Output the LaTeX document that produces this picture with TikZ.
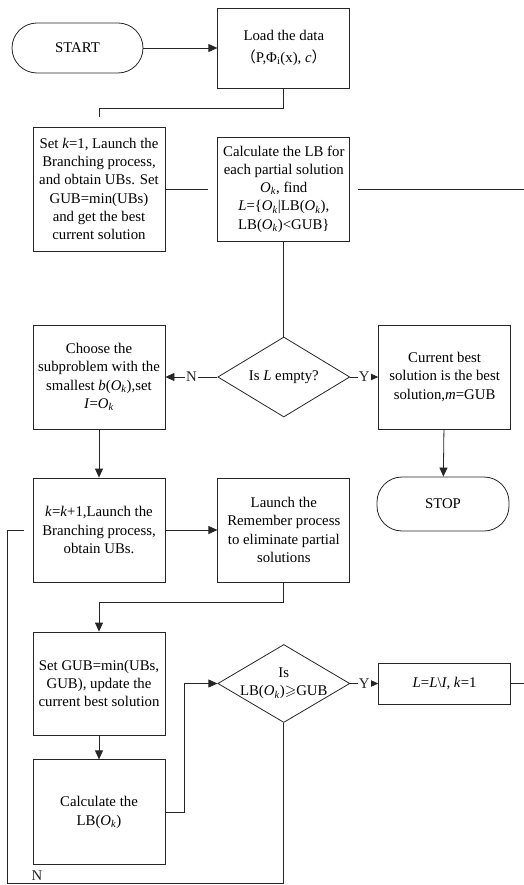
\documentclass[tikz,border=0pt]{standalone}
\usepackage{amssymb}
\usepackage{fontspec}
\setmainfont{Liberation Serif}
\newfontfamily\cjk{Noto Sans CJK SC}
\usetikzlibrary{arrows.meta,positioning,shapes.geometric}
\colorlet{myline}{black!85}
\def\colsep{52pt}
\def\Ok{\textit{O}\textsubscript{\textit{k}}}
\tikzset{
  >={Triangle[length=9pt,width=8pt]},
  txt/.style={font=\fontsize{14.8}{18.3}\selectfont},
  box/.style={txt,draw=myline,line width=0.8pt,align=center,minimum width=132pt,inner sep=2pt},
  term/.style={box,rounded corners=25pt,minimum width=131pt,minimum height=50pt},
  decision/.style={txt,diamond,draw=myline,line width=0.8pt,aspect=1.65,minimum width=132pt,minimum height=80pt,inner sep=0pt},
  connect/.style={myline,line width=0.8pt},
  connect arrow/.style={connect,->},
  yn/.style={txt,fill=white,inner sep=1pt}
}

\begin{document}
\begin{tikzpicture}[x=1pt,y=-1pt]
	\useasboundingbox (0,0) rectangle (524,885);

	\node[term] (start) at (77.5,48) {START};
	\node[box,minimum height=80pt,right=74pt of start] (load) {Load the data\\[4pt]{\cjk （}P,Φ\textsubscript{i}(x), \textit{c}{\cjk ）}};

	\node[box,minimum height=124pt] (setk) at (99,189) {Set \textit{k}=1, Launch the\\Branching process,\\and obtain UBs. Set\\GUB=min(UBs)\\and get the best\\current solution};
	\node[box,minimum height=104pt,right=\colsep of setk] (calc) {Calculate the LB for\\each partial solution\\\Ok, find\\\textit{L}=\{\Ok|LB(\Ok),\\LB(\Ok)<GUB\}};

	\node[box,minimum height=104pt] (choose) at (99,377) {Choose the\\subproblem with the\\smallest \textit{b}(\Ok),set\\\textit{I}=\Ok};
	\node[decision,right=\colsep of choose] (isL) {Is \textit{L} empty?};
	\node[box,minimum height=104pt,right=28pt of isL] (curbest) {Current best\\solution is the best\\solution,\textit{m}=GUB};

	\node[box,minimum height=104pt] (kbox) at (99,530) {\textit{k}=\textit{k}+1,Launch the\\Branching process,\\obtain UBs.};
	\node[box,minimum height=104pt,right=\colsep of kbox] (rem) {Launch the\\Remember process\\to eliminate partial\\solutions};
	\node[term,minimum width=132pt,minimum height=54pt] (stop) at (443,504) {STOP};

	\node[box,minimum height=103pt] (setgub) at (99,683.5) {Set GUB=min(UBs,\\GUB), update the\\current best solution};
	\node[box,minimum height=105pt,below=24pt of setgub] (calclb) {Calculate the\\LB(\Ok)};
	\node[decision,minimum height=78pt,right=\colsep of setgub] (isLB) {};
	\node[txt,align=center] (isLBtext) at (isLB.center) {Is\\LB(\Ok)$\geqslant$GUB};
	\node[box,minimum height=41pt,right=28pt of isLB] (lset) {\textit{L}=\textit{L}\textbackslash\textit{I}, \textit{k}=1};

	% loose ends leaving the picture
	\coordinate (edgeA) at (526,189);
	\coordinate (edgeB) at (526,683.5);
	\coordinate (loopN) at (7,883);

	\draw[connect arrow] (start) -- (load);
	\draw[connect,shorten >=10pt] (load.south) -- ++(0,20) -| (setk.north);
	\draw[connect,shorten >=9pt] (setk) -- (calc);
	\draw[connect,shorten >=8pt] (edgeA) -- (calc.east);
	\draw[connect] (calc) -- (isL);
	\draw[connect arrow] (isL) -- node[yn] {N} (choose);
	\draw[connect arrow] (isL) -- node[yn] {Y} (curbest);
	\draw[connect arrow] (choose) -- (kbox);
	\draw[connect arrow] (curbest) -- (stop);
	\draw[connect arrow] (kbox) -- (rem);
	\draw[connect arrow] (rem.south) -- ++(0,20) -| (setgub.north);
	\draw[connect arrow] (setgub) -- (calclb);
	\draw[connect arrow] (calclb.east) -- ++(19,0) |- (isLB.west);
	\draw[connect arrow] (isLB) -- node[yn] {Y} (lset);
	\draw[connect] (lset) -- (edgeB);
	\draw[connect,shorten >=9pt] (isLB.south) |- node[yn,pos=0.946,anchor=south,yshift=1pt] {N} (loopN) |- (kbox.west);
\end{tikzpicture}
\end{document}
